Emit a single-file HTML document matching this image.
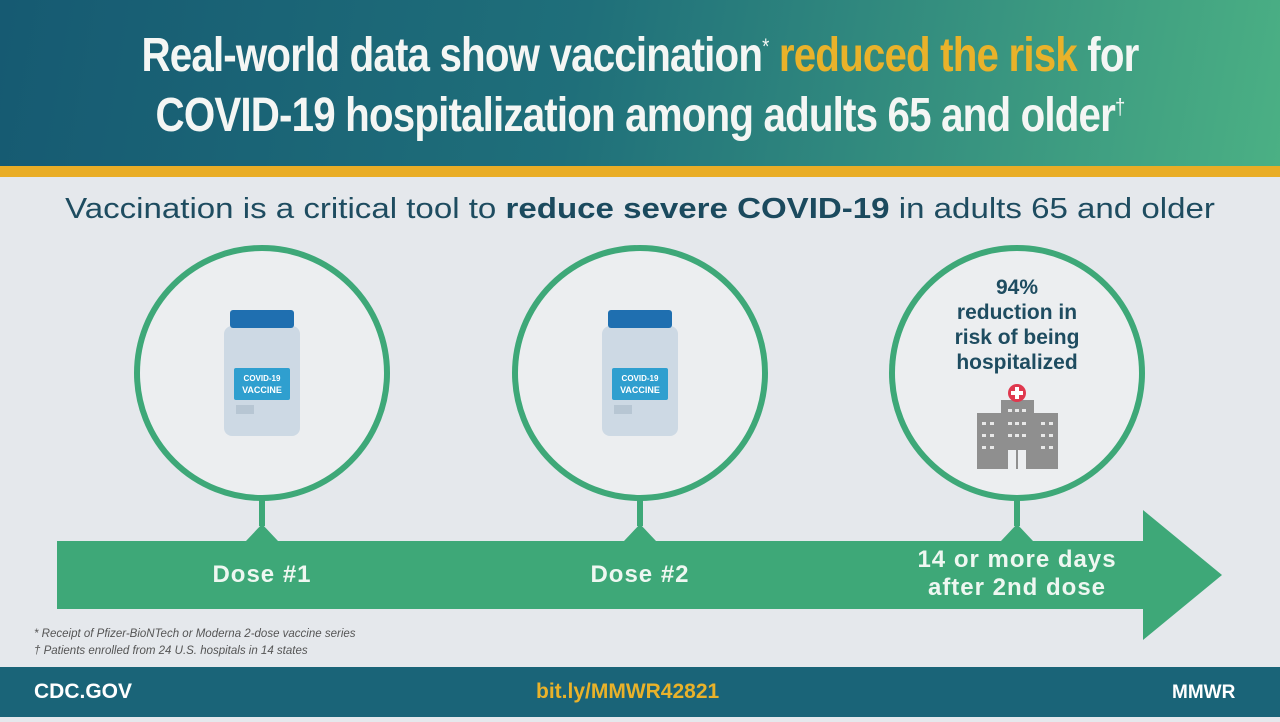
<!DOCTYPE html>
<html><head><meta charset="utf-8"><style>
*{margin:0;padding:0;box-sizing:border-box}
body{width:1280px;height:722px;overflow:hidden;background:#e5e8ec;font-family:"Liberation Sans",sans-serif;position:relative}
.hdr{position:absolute;left:0;top:0;width:1280px;height:166px;background:linear-gradient(100deg,#165a72 0%,#1f6f7a 45%,#4bb084 100%)}
.band{position:absolute;left:0;top:166px;width:1280px;height:11px;background:#e9ad26}
.title{position:absolute;left:0;width:1280px;text-align:center;color:#f4f6f4;font-weight:bold;font-size:48px;letter-spacing:-1px;transform:scaleX(0.84);transform-origin:640px 0}
.title sup{font-size:22px;font-weight:normal}
.y{color:#e9b22a}
.sub{position:absolute;left:0;top:193px;width:1280px;text-align:center;font-size:29px;color:#1e4c60;transform:scaleX(1.14);transform-origin:640px 0}
.sub b{color:#1b4a5e}
.foot{position:absolute;left:0;top:667px;width:1280px;height:50px;background:#1a6478}
.ft{position:absolute;top:680px;font-weight:bold;font-size:21px}
.note{position:absolute;left:34px;font-size:11.5px;color:#555;font-style:italic}
.lbl{position:absolute;color:#eef7f1;font-weight:bold;font-size:24px;letter-spacing:1px;text-align:center}
</style></head><body>
<div class="hdr"></div>
<div class="title" style="top:28px">Real-world data show vaccination<sup>*</sup> <span class="y">reduced the risk</span> for</div>
<div class="title" style="top:88px">COVID-19 hospitalization among adults 65 and older<sup>†</sup></div>
<div class="band"></div>
<div class="sub">Vaccination is a critical tool to <b>reduce severe COVID-19</b> in adults 65 and older</div>

<svg style="position:absolute;left:0;top:0" width="1280" height="722">
 <polygon points="57,541 1143,541 1143,510 1222,575 1143,640 1143,609 57,609" fill="#3ea878"/>
 <g fill="#3ea878">
  <rect x="259" y="498" width="6" height="28"/><polygon points="246,541 262,524 278,541"/>
  <rect x="637" y="498" width="6" height="28"/><polygon points="624,541 640,524 656,541"/>
  <rect x="1014" y="498" width="6" height="28"/><polygon points="1001,541 1017,524 1033,541"/>
 </g>
 <circle cx="262" cy="373" r="125" fill="#eceef0" stroke="#3ea878" stroke-width="6"/>
 <circle cx="640" cy="373" r="125" fill="#eceef0" stroke="#3ea878" stroke-width="6"/>
 <circle cx="1017" cy="373" r="125" fill="#eceef0" stroke="#3ea878" stroke-width="6"/>
 <g>
  <rect x="224" y="326" width="76" height="110" rx="8" fill="#cdd9e4"/>
  <rect x="230" y="310" width="64" height="18" rx="3" fill="#1f6fb0"/>
  <rect x="234" y="368" width="56" height="32" rx="2" fill="#2f9fcf"/>
  <text x="262" y="381" font-size="8" fill="#fff" text-anchor="middle" font-weight="bold">COVID-19</text>
  <text x="262" y="393" font-size="9" fill="#fff" text-anchor="middle" font-weight="bold">VACCINE</text>
  <rect x="236" y="405" width="18" height="9" fill="#b7c6d3"/>
 </g>
 <g>
  <rect x="602" y="326" width="76" height="110" rx="8" fill="#cdd9e4"/>
  <rect x="608" y="310" width="64" height="18" rx="3" fill="#1f6fb0"/>
  <rect x="612" y="368" width="56" height="32" rx="2" fill="#2f9fcf"/>
  <text x="640" y="381" font-size="8" fill="#fff" text-anchor="middle" font-weight="bold">COVID-19</text>
  <text x="640" y="393" font-size="9" fill="#fff" text-anchor="middle" font-weight="bold">VACCINE</text>
  <rect x="614" y="405" width="18" height="9" fill="#b7c6d3"/>
 </g>
 <g fill="#8f8f8f">
  <rect x="977" y="413" width="24" height="56"/>
  <rect x="1001" y="400" width="33" height="69"/>
  <rect x="1034" y="413" width="24" height="56"/>
  <g fill="#e8e8e8">
   <rect x="982" y="422" width="4" height="3"/><rect x="990" y="422" width="4" height="3"/>
   <rect x="982" y="434" width="4" height="3"/><rect x="990" y="434" width="4" height="3"/>
   <rect x="982" y="446" width="4" height="3"/><rect x="990" y="446" width="4" height="3"/>
   <rect x="1041" y="422" width="4" height="3"/><rect x="1049" y="422" width="4" height="3"/>
   <rect x="1041" y="434" width="4" height="3"/><rect x="1049" y="434" width="4" height="3"/>
   <rect x="1041" y="446" width="4" height="3"/><rect x="1049" y="446" width="4" height="3"/>
   <rect x="1008" y="409" width="4" height="3"/><rect x="1015" y="409" width="4" height="3"/><rect x="1022" y="409" width="4" height="3"/>
   <rect x="1008" y="422" width="4" height="3"/><rect x="1015" y="422" width="4" height="3"/><rect x="1022" y="422" width="4" height="3"/>
   <rect x="1008" y="434" width="4" height="3"/><rect x="1015" y="434" width="4" height="3"/><rect x="1022" y="434" width="4" height="3"/>
  </g>
  <rect x="1008" y="450" width="18" height="19" fill="#eceef0"/>
  <rect x="1016" y="450" width="2" height="19" fill="#8f8f8f"/>
  <circle cx="1017" cy="393" r="9" fill="#e0384e"/>
  <rect x="1015" y="387" width="4" height="12" fill="#fff"/><rect x="1011" y="391" width="12" height="4" fill="#fff"/>
 </g>
 <text font-family="Liberation Sans,sans-serif" font-weight="bold" font-size="21" fill="#1e4c60" text-anchor="middle">
  <tspan x="1017" y="294">94%</tspan><tspan x="1017" y="319">reduction in</tspan><tspan x="1017" y="344">risk of being</tspan><tspan x="1017" y="369">hospitalized</tspan>
 </text>
</svg>
<div class="lbl" style="left:162px;top:561px;width:200px">Dose #1</div>
<div class="lbl" style="left:540px;top:561px;width:200px">Dose #2</div>
<div class="lbl" style="left:870px;top:546px;width:294px;line-height:28px">14 or more days<br>after 2nd dose</div>
<div class="note" style="top:628px">* Receipt of Pfizer-BioNTech or Moderna 2-dose vaccine series</div>
<div class="note" style="top:645px">† Patients enrolled from 24 U.S. hospitals in 14 states</div>
<div class="foot"></div>
<div class="ft" style="left:34px;color:#fff">CDC.GOV</div>
<div class="ft" style="left:536px;color:#e9b22a">bit.ly/MMWR42821</div>
<div class="ft" style="left:1172px;color:#fff;font-size:19px;top:682px">MMWR</div>
</body></html>
